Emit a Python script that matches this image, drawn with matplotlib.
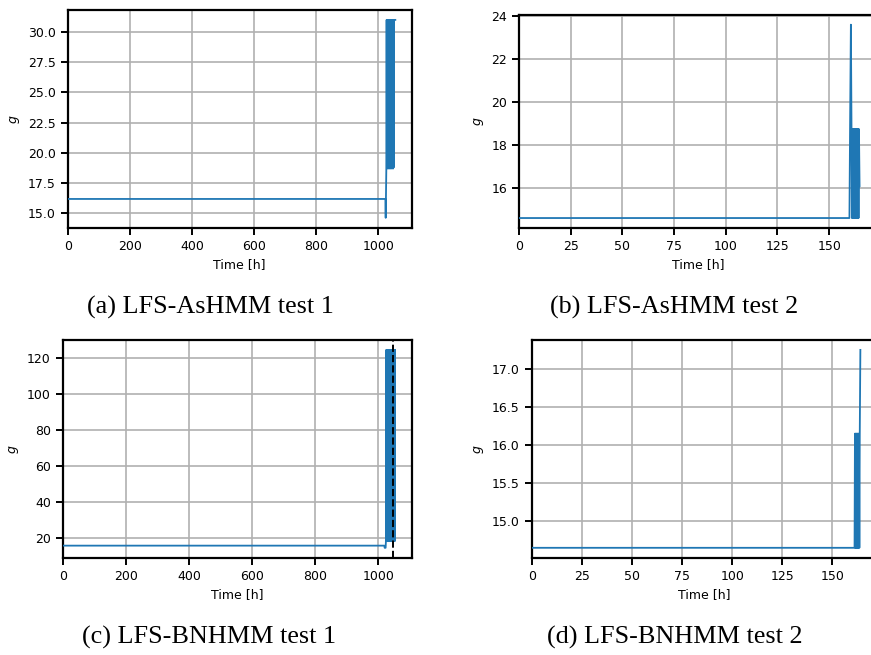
import matplotlib
matplotlib.use("Agg")
import matplotlib.pyplot as plt

# ---------------- data ----------------
# (a) LFS-AsHMM test 1
a_time = [0, 1023, 1024, 1026,
          1027, 1028, 1029, 1030, 1031, 1032, 1033, 1034, 1035, 1036,
          1037, 1038, 1039, 1040, 1041, 1042, 1043, 1044, 1045, 1046,
          1047, 1048, 1049, 1050, 1051, 1052, 1055]
a_g = [16.18, 16.18, 14.62, 18.65,
       31.0, 18.7, 31.0, 18.8, 31.0, 18.7, 31.0, 18.8, 31.0, 18.7,
       31.0, 18.8, 31.0, 18.7, 31.0, 18.8, 31.0, 18.7, 31.0, 18.8,
       31.0, 18.7, 31.0, 18.8, 31.0, 31.0, 31.0]

# (b) LFS-AsHMM test 2
b_time = [0, 159.8, 160.1, 160.5, 160.8, 161.0, 161.2, 161.4, 161.6, 161.8,
          162.0, 162.2, 162.4, 162.6, 162.8, 163.0, 163.2, 163.4, 163.6,
          163.8, 164.0, 164.2, 164.4, 164.7]
b_g = [14.62, 14.62, 18.75, 23.6, 18.75, 14.62, 18.75, 14.62, 18.75, 14.62,
       18.75, 14.62, 18.75, 14.62, 18.75, 14.62, 18.75, 14.62, 18.75,
       14.62, 18.75, 14.62, 18.75, 16.1]

# (c) LFS-BNHMM test 1
c_time = [0, 1019, 1020, 1023, 1024,
          1025, 1026, 1027, 1028, 1029, 1030, 1031, 1032, 1033, 1034,
          1035, 1036, 1037, 1038, 1039, 1040, 1041, 1042, 1043, 1044,
          1045, 1046, 1047, 1048, 1049, 1050, 1051, 1052, 1053]
c_g = [16.0, 16.0, 14.8, 14.8, 18.5,
       124.6, 18.5, 124.6, 18.5, 124.6, 18.5, 124.6, 18.5, 124.6, 18.5,
       124.6, 18.5, 124.6, 18.5, 124.6, 18.5, 124.6, 18.5, 124.6, 18.5,
       124.6, 18.5, 124.6, 18.5, 124.6, 18.5, 124.6, 18.5, 124.6]
c_marker = 1045

# (d) LFS-BNHMM test 2
d_time = [0, 161.0, 161.2, 161.4, 161.6, 161.8, 162.0, 162.2, 162.4, 162.6,
          162.8, 163.0, 163.2, 163.4, 163.6, 163.9]
d_g = [14.65, 14.65, 16.15, 14.65, 16.15, 14.65, 16.15, 14.65, 16.15, 14.65,
       16.15, 14.65, 16.15, 14.65, 16.15, 17.25]

captions = ["(a) LFS-AsHMM test 1", "(b) LFS-AsHMM test 2",
            "(c) LFS-BNHMM test 1", "(d) LFS-BNHMM test 2"]
xticks_long = [0, 200, 400, 600, 800, 1000]
xticks_short = [0, 25, 50, 75, 100, 125, 150]
yticks_a = [15.0, 17.5, 20.0, 22.5, 25.0, 27.5, 30.0]
yticks_b = [16, 18, 20, 22, 24]
yticks_c = [20, 40, 60, 80, 100, 120]
yticks_d = [15.0, 15.5, 16.0, 16.5, 17.0]

# ---------------- figure ----------------
W, H = 871, 655
fig = plt.figure(figsize=(W / 100, H / 100), dpi=100)

def add_ax(left, top, right, bottom):
    return fig.add_axes([left / W, 1 - bottom / H, (right - left) / W, (bottom - top) / H])

boxes = [(67.7, 10, 411.7, 227.7),
         (519, 15, 876.6, 227.7),
         (62.7, 340, 411.7, 557.7),
         (531.7, 340, 876.8, 557.7)]
series = [(a_time, a_g, xticks_long, yticks_a, "{:.1f}"),
          (b_time, b_g, xticks_short, yticks_b, "{:d}"),
          (c_time, c_g, xticks_long, yticks_c, "{:d}"),
          (d_time, d_g, xticks_short, yticks_d, "{:.1f}")]

for i, (box, (t, g, xt, yt, fmt)) in enumerate(zip(boxes, series)):
    ax = add_ax(*box)
    ax.plot(t, g, color="#1f77b4", lw=1.3, zorder=3)
    if i == 2:
        ax.axvline(c_marker, color="black", ls="--", lw=1.4, zorder=4)
    ax.set_xlim(0, max(t) * 1.05)
    ax.margins(y=0.05)
    ax.set_xticks(xt)
    ax.set_yticks(yt)
    ax.set_yticklabels([fmt.format(v) for v in yt])
    ax.grid(True, color="#b0b0b0", lw=1.2)
    ax.set_axisbelow(True)
    for sp in ax.spines.values():
        sp.set_linewidth(1.6)
    ax.tick_params(labelsize=9, length=5, width=1.4)
    ax.set_xlabel("Time [h]", fontsize=9)
    ax.set_ylabel("$g$", fontsize=9)

cap_pos = [(210, 307), (674, 307), (209, 637), (675, 637)]
for (x, y), txt in zip(cap_pos, captions):
    fig.text(x / W, 1 - y / H, txt, ha="center", va="center",
             family="Liberation Serif", fontsize=18.8)

fig.savefig("out.png", dpi=100)
